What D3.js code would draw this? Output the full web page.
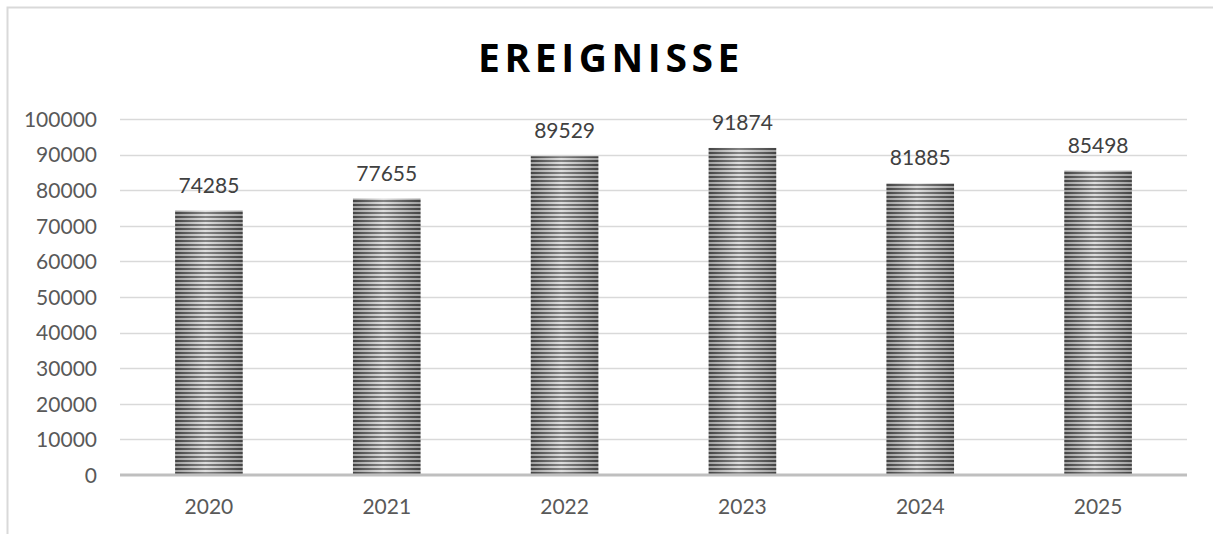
<!DOCTYPE html>
<html><head><meta charset="utf-8">
<script src="https://cdn.jsdelivr.net/npm/d3@7"></script>
<style>body{margin:0;background:#fff}svg{display:block}</style>
</head><body>
<svg id="c" width="1213" height="534"></svg>
<script>
const categories = ["2020","2021","2022","2023","2024","2025"];
const values = [74285, 77655, 89529, 91874, 81885, 85498];
const yTicks = [0,10000,20000,30000,40000,50000,60000,70000,80000,90000,100000];
const title = "EREIGNISSE";

const svg = d3.select("#c");
const W = 1213, H = 534;
const m = {left:120, right:26, top:119, bottom:59};
const FONT = "Lato, 'Open Sans', sans-serif";
const x = d3.scaleBand().domain(categories).range([m.left, W - m.right]).paddingInner(0.62).paddingOuter(0.31);
const y = d3.scaleLinear().domain([0,100000]).range([H - m.bottom, m.top]);

const defs = svg.append("defs");
const pat = defs.append("pattern").attr("id","stripes").attr("patternUnits","userSpaceOnUse")
  .attr("width",8).attr("height",4);
pat.append("rect").attr("width",8).attr("height",4).attr("fill","#d4d4d4");
pat.append("rect").attr("width",8).attr("height",2).attr("fill","#5a5a5a");
const grad = defs.append("linearGradient").attr("id","shade").attr("x1",0).attr("x2",1).attr("y1",0).attr("y2",0);
grad.append("stop").attr("offset","0%").attr("stop-color","#000").attr("stop-opacity",0.25);
grad.append("stop").attr("offset","45%").attr("stop-color","#fff").attr("stop-opacity",0.25);
grad.append("stop").attr("offset","100%").attr("stop-color","#000").attr("stop-opacity",0.25);

// frame
svg.append("path").attr("d",`M7.5,${H} V7.5 H${W}`).attr("fill","none").attr("stroke","#d9d9d9").attr("stroke-width",2);

// gridlines
svg.append("g").selectAll("line").data(yTicks.filter(d=>d>0)).join("line")
  .attr("x1",m.left).attr("x2",W-m.right)
  .attr("y1",d=>Math.round(y(d))+0.5).attr("y2",d=>Math.round(y(d))+0.5)
  .attr("stroke","#d9d9d9").attr("stroke-width",1.3);

// y axis labels
const yAxis = d3.axisLeft(y).tickValues(yTicks).tickSize(0).tickPadding(0).tickFormat(d3.format("d"));
const ya = svg.append("g").attr("transform",`translate(97,0)`).call(yAxis);
ya.select(".domain").remove();
ya.selectAll("text").attr("font-family",FONT).attr("font-size",21).attr("fill","#595959").attr("dy","0.35em");

// bars
const bars = svg.append("g").selectAll("g").data(values).join("g");
bars.append("rect").attr("x",(d,i)=>x(categories[i])).attr("width",x.bandwidth())
  .attr("y",d=>y(d)).attr("height",d=>y(0)-y(d)).attr("fill","url(#stripes)");
bars.append("rect").attr("x",(d,i)=>x(categories[i])).attr("width",x.bandwidth())
  .attr("y",d=>y(d)).attr("height",d=>y(0)-y(d)).attr("fill","url(#shade)");

// baseline
svg.append("line").attr("x1",m.left).attr("x2",W-m.right).attr("y1",y(0)).attr("y2",y(0))
  .attr("stroke","#bfbfbf").attr("stroke-width",3);

// value labels
svg.append("g").selectAll("text").data(values).join("text")
  .attr("x",(d,i)=>x(categories[i])+x.bandwidth()/2).attr("y",d=>y(d)-18)
  .attr("text-anchor","middle").attr("font-family",FONT).attr("font-size",21).attr("fill","#404040")
  .text(d=>d);

// x axis
const xAxis = d3.axisBottom(x).tickSize(0).tickPadding(0);
const xa = svg.append("g").attr("transform",`translate(0,${y(0)+32})`).call(xAxis);
xa.select(".domain").remove();
xa.selectAll("text").attr("font-family",FONT).attr("font-size",21).attr("fill","#595959").attr("dy","0.35em");

// title
svg.append("text").attr("x",611).attr("y",72).attr("text-anchor","middle")
  .attr("font-family","'Open Sans', sans-serif").attr("font-weight","bold").attr("font-size",39)
  .attr("letter-spacing","4.6px").attr("fill","#000").text(title);
</script>
</body></html>
